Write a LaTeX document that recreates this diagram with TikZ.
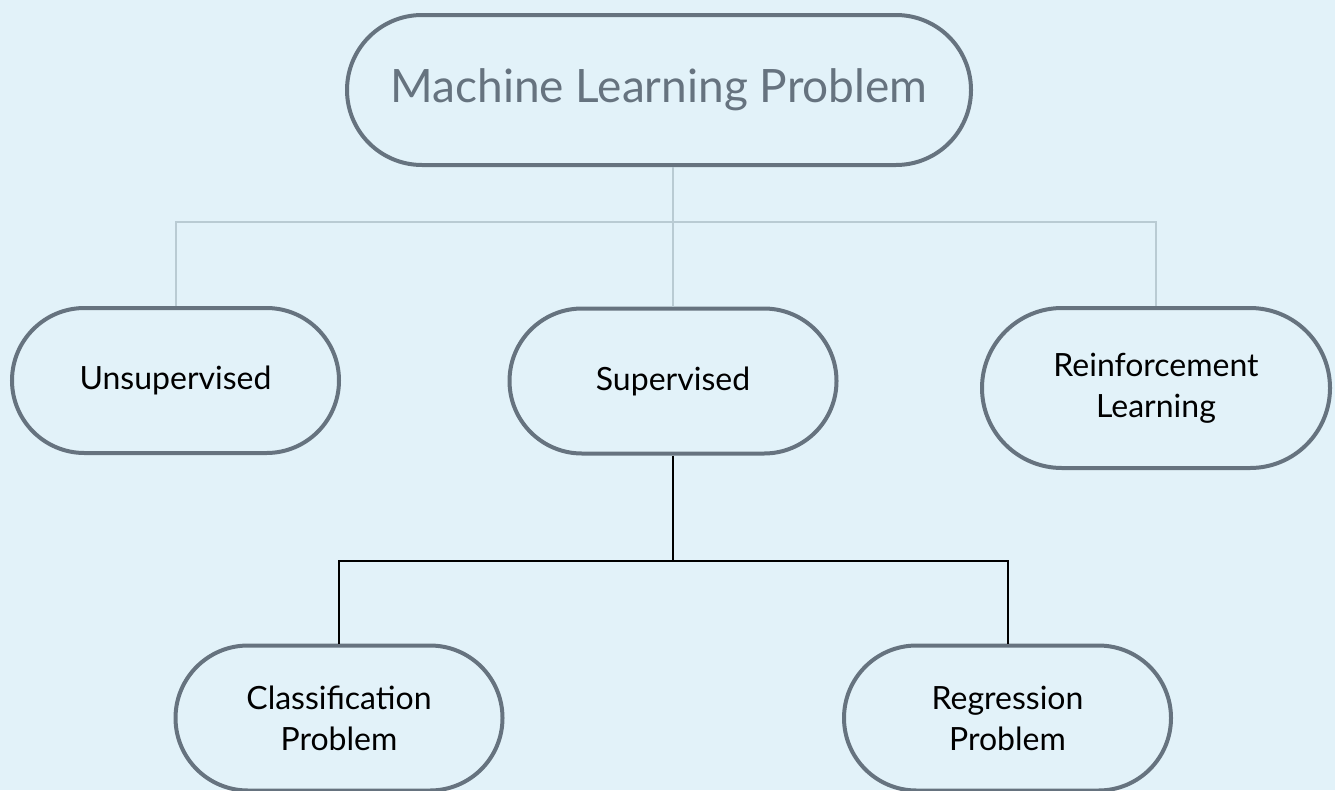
\documentclass[tikz,border=0pt]{standalone}
\usepackage{fontspec}
\setmainfont{Lato}
\usetikzlibrary{shapes.misc}
\definecolor{bgblue}{HTML}{E2F2F9}
\definecolor{slate}{HTML}{66737F}
\definecolor{paleline}{HTML}{B9CBD3}
\tikzset{
  pill/.style={rounded rectangle, draw=slate, line width=4pt, align=center, inner sep=0pt,
    font=\fontsize{32}{41}\selectfont, minimum width=327pt, minimum height=145pt},
  branch/.style={draw=paleline, line width=2pt},
  subbranch/.style={draw=black, line width=2pt}
}
\begin{document}
\begin{tikzpicture}[x=1pt,y=-1pt]
  \useasboundingbox (0,0) rectangle (1335,790);
  \fill[bgblue] (0,0) rectangle (1335,790);

  \node[pill, text=slate, font=\fontsize{46}{56}\selectfont, minimum width=624pt, minimum height=150pt] (ml) at (659,90) {Machine Learning Problem};
  \node[pill] (unsup) at (175.5,380.5) {Unsupervised};
  \node[pill] (sup) at (673,381) {Supervised};
  \node[pill, minimum width=348pt, minimum height=160pt] (rl) at (1156,388) {Reinforcement\\Learning};
  \node[pill] (cls) at (339,718) {Classification\\Problem};
  \node[pill] (reg) at (1007.5,718) {Regression\\Problem};

  % first level
  \coordinate (mlhub) at (673,222);
  \draw[branch] (ml.south -| mlhub) -- (mlhub);
  \draw[branch] (unsup.north) |- (mlhub) -| (rl.north);
  \draw[branch] (mlhub) -- (sup.north);

  % second level
  \coordinate (suphub) at (673,561);
  \draw[subbranch] (sup.south) -- (suphub);
  \draw[subbranch] (cls.north) |- (suphub) -| (reg.north);
\end{tikzpicture}
\end{document}
